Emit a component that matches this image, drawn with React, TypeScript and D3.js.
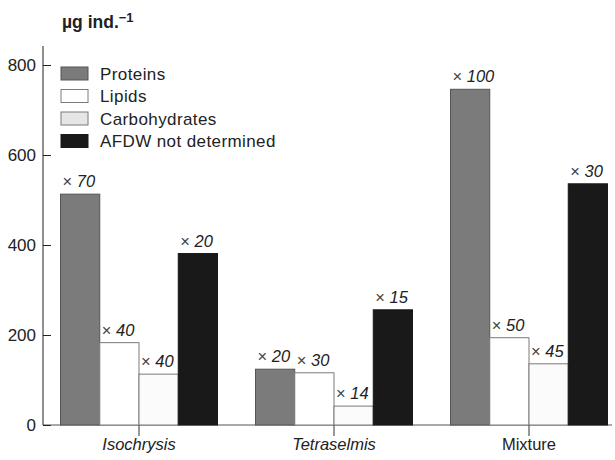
import * as React from 'react';
import * as d3 from 'd3';

import type { RefObject } from 'react';

const categories = ['Isochrysis', 'Tetraselmis', 'Mixture'];
const italicCategories = ['Isochrysis', 'Tetraselmis'];
const seriesNames = ['Proteins', 'Lipids', 'Carbohydrates', 'AFDW not determined'];

const proteins = [513, 124, 746];
const lipids = [183, 116, 194];
const carbohydrates = [113, 42, 136];
const afdw = [381, 256, 536];

const proteinLabels = ['70', '20', '100'];
const lipidLabels = ['40', '30', '50'];
const carbLabels = ['40', '14', '45'];
const afdwLabels = ['20', '15', '30'];

const yTicks = [0, 200, 400, 600, 800];

interface BarDatum {
  category: string;
  series: string;
  value: number;
  label: string;
}

const fills: Record<string, string> = {
  Proteins: '#7b7b7b',
  Lipids: '#ffffff',
  Carbohydrates: '#fbfbfb',
  'AFDW not determined': '#191919',
};
const strokes: Record<string, string> = {
  Proteins: '#555',
  Lipids: '#7a7a7a',
  Carbohydrates: '#7a7a7a',
  'AFDW not determined': '#191919',
};
const legendFills: Record<string, string> = {
  ...fills,
  Carbohydrates: '#e6e6e6',
};

const FONT = '"Liberation Sans", Arial, Helvetica, sans-serif';

const Chart = () => {
  const ref: RefObject<SVGSVGElement> = React.useRef(null);

  const width = 615;
  const height = 460;

  React.useEffect(() => {
    const svg = d3.select(ref.current);
    svg.selectAll('*').remove();

    const values = [proteins, lipids, carbohydrates, afdw];
    const labels = [proteinLabels, lipidLabels, carbLabels, afdwLabels];
    const data: BarDatum[] = [];
    categories.forEach((c, ci) => {
      seriesNames.forEach((s, si) => {
        data.push({ category: c, series: s, value: values[si][ci], label: labels[si][ci] });
      });
    });

    const x0 = d3.scaleBand<string>().domain(categories).range([41.5, 626.5]);
    const groupWidth = 157;
    const x1 = d3.scaleBand<string>().domain(seriesNames).range([0, groupWidth]);
    const y = d3.scaleLinear().domain([0, 800]).range([425, 65]);

    const groupLeft = (c: string) => (x0(c) as number) + (x0.bandwidth() - groupWidth) / 2;

    // baseline + category ticks
    const xAxis = svg
      .append('g')
      .attr('transform', `translate(0, ${y(0)})`)
      .call(d3.axisBottom(x0).tickSize(11).tickSizeOuter(0).tickFormat(() => ''));
    xAxis.select('.domain').attr('d', `M43,0H612`).attr('stroke', '#555');
    xAxis.selectAll('.tick line').attr('stroke', '#333');

    svg
      .append('g')
      .selectAll('text')
      .data(categories)
      .join('text')
      .attr('x', (d) => (x0(d) as number) + x0.bandwidth() / 2)
      .attr('y', 450)
      .attr('text-anchor', 'middle')
      .attr('font-family', FONT)
      .attr('font-size', 16.5)
      .attr('font-style', (d) => (italicCategories.includes(d) ? 'italic' : 'normal'))
      .attr('fill', '#222')
      .text((d) => d);

    // bars
    svg
      .append('g')
      .selectAll('rect')
      .data(data)
      .join('rect')
      .attr('x', (d) => groupLeft(d.category) + (x1(d.series) as number))
      .attr('y', (d) => y(d.value))
      .attr('width', x1.bandwidth())
      .attr('height', (d) => y(0) - y(d.value))
      .attr('fill', (d) => fills[d.series])
      .attr('stroke', (d) => strokes[d.series])
      .attr('stroke-width', 1);

    // bar labels
    const lab = svg
      .append('g')
      .selectAll('text')
      .data(data)
      .join('text')
      .attr('x', (d) => groupLeft(d.category) + (x1(d.series) as number) + 2)
      .attr('y', (d) => y(d.value) - 7)
      .attr('font-family', FONT)
      .attr('font-size', 16.5)
      .attr('fill', '#222');
    lab.append('tspan').attr('fill', '#444').text('× ');
    lab
      .append('tspan')
      .attr('font-style', 'italic')
      .text((d) => d.label);

    // y axis
    const yAxis = svg
      .append('g')
      .attr('transform', 'translate(43, 0)')
      .call(
        d3
          .axisLeft(y)
          .tickValues(yTicks)
          .tickSize(-8)
          .tickSizeOuter(0)
          .tickPadding(7)
          .tickFormat((d) => String(d))
      );
    yAxis.select('.domain').attr('d', `M0,46V${y(0)}`).attr('stroke', '#222');
    yAxis.selectAll('.tick line').attr('stroke', '#222');
    yAxis
      .selectAll('.tick text')
      .attr('font-family', FONT)
      .attr('font-size', 17)
      .attr('fill', '#222');

    // legend
    const legend = svg
      .append('g')
      .selectAll('g')
      .data(seriesNames)
      .join('g')
      .attr('transform', (d, i) => `translate(61, ${67 + i * 22.5})`);
    legend
      .append('rect')
      .attr('width', 27)
      .attr('height', 13)
      .attr('fill', (d) => legendFills[d])
      .attr('stroke', (d) => strokes[d]);
    legend
      .append('text')
      .attr('x', 39)
      .attr('y', 12.5)
      .attr('font-family', FONT)
      .attr('font-size', 17)
      .attr('letter-spacing', 0.4)
      .attr('fill', '#222')
      .text((d) => d);

    // unit title
    const title = svg
      .append('text')
      .attr('x', 62)
      .attr('y', 28)
      .attr('font-family', FONT)
      .attr('font-size', 17.5)
      .attr('font-weight', 'bold')
      .attr('fill', '#222');
    title.append('tspan').text('µg ind.');
    title.append('tspan').attr('font-size', 13).attr('dy', -6).text('−1');
  }, []);

  return (
    <svg
      ref={ref}
      width={width}
      height={height}
      style={{ position: 'absolute', left: 0, top: 0, background: '#fff' }}
    />
  );
};

export default Chart;
